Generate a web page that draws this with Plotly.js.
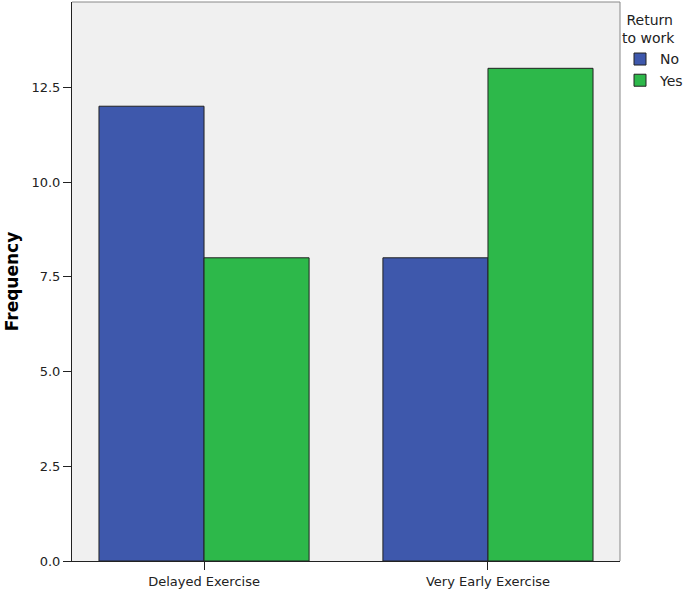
<!DOCTYPE html>
<html>
<head>
<meta charset="utf-8">
<script src="https://cdn.plot.ly/plotly-3.0.1.min.js"></script>
<style>body{margin:0;padding:0;background:#fff;} #chart{width:685px;height:590px;}</style>
</head>
<body>
<div id="chart"></div>
<script>
const categories = ["Delayed Exercise", "Very Early Exercise"];
const seriesNames = ["No", "Yes"];
const noValues = [12, 8];
const yesValues = [8, 13];
const yTickVals = [0, 2.5, 5, 7.5, 10, 12.5];
const yTickText = ["0.0", "2.5", "5.0", "7.5", "10.0", "12.5"];

const font = "DejaVu Sans, Verdana, sans-serif";
const traces = [
  {type: "bar", name: seriesNames[0], x: categories, y: noValues,
   marker: {color: "#3e58ac", line: {color: "#222", width: 1}}},
  {type: "bar", name: seriesNames[1], x: categories, y: yesValues,
   marker: {color: "#2db84a", line: {color: "#222", width: 1}}}
];
const layout = {
  width: 685, height: 590,
  margin: {l: 72, r: 65, t: 2, b: 29, autoexpand: false},
  paper_bgcolor: "#fff", plot_bgcolor: "#f0f0f0",
  barmode: "group", bargap: 0.26, bargroupgap: 0,
  font: {family: font, size: 13, color: "#222"},
  xaxis: {range: [-0.465, 1.465], showline: true, linecolor: "#222", linewidth: 1,
          ticks: "outside", ticklen: 8, tickcolor: "#222", showgrid: false,
          tickfont: {size: 13, color: "#222"}, zeroline: false, automargin: false},
  yaxis: {range: [0, 14.75], tickvals: yTickVals, ticktext: yTickText,
          showline: true, linecolor: "#222", linewidth: 1,
          ticks: "outside", ticklen: 8, tickcolor: "#222", showgrid: false, zeroline: false,
          tickfont: {size: 13, color: "#222"}, automargin: false,
          title: {text: "<b>Frequency</b>", font: {size: 17, color: "#000"}, standoff: 8}},
  shapes: [
    {type: "line", xref: "paper", yref: "paper", x0: 0, x1: 1, y0: 1, y1: 1, line: {color: "#888", width: 1}},
    {type: "line", xref: "paper", yref: "paper", x0: 1, x1: 1, y0: 0, y1: 1, line: {color: "#888", width: 1}}
  ],
  showlegend: true,
  legend: {x: 1.0, y: 0.991, xanchor: "left", yanchor: "top", bgcolor: "rgba(0,0,0,0)",
           title: {text: "&nbsp;Return<br>to work", font: {size: 14, color: "#222"}},
           font: {size: 14, color: "#222"}, itemwidth: 30, tracegroupgap: 0}
};
Plotly.newPlot("chart", traces, layout, {displayModeBar: false, staticPlot: true});
</script>
</body>
</html>
